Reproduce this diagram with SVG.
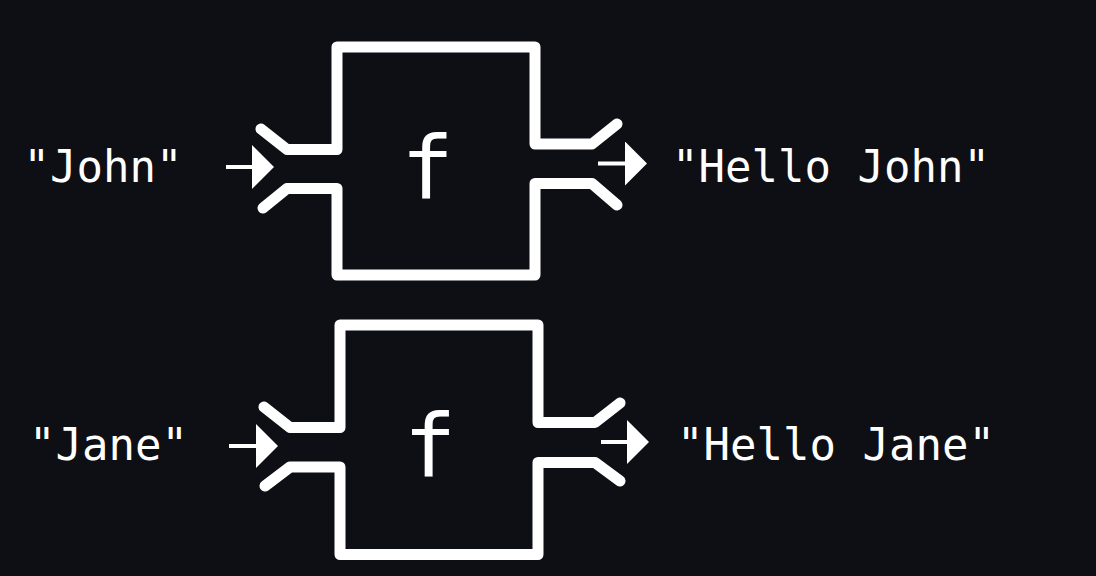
<svg xmlns="http://www.w3.org/2000/svg" width="1096" height="576" viewBox="0 0 1096 576">
  <style>
    .box { fill: none; stroke: #ffffff; stroke-width: 11; stroke-linejoin: round; stroke-linecap: round; }
    .lbl { fill: #ffffff; font-family: "DejaVu Sans Mono", "Liberation Mono", monospace; font-size: 44px; text-anchor: middle; }
    .fn { fill: #ffffff; font-family: "DejaVu Sans Mono", "Liberation Mono", monospace; font-size: 87px; text-anchor: middle; }
    .arr { stroke: #ffffff; stroke-width: 4; fill: none; marker-end: url(#head); }
  </style>
  <defs>
    <marker id="head" viewBox="0 0 22 44" refX="1" refY="22" markerWidth="22" markerHeight="44" markerUnits="userSpaceOnUse" orient="auto">
      <path d="M0,0 L22,22 L0,44 Z" fill="#ffffff"/>
    </marker>
  </defs>
  <rect width="1096" height="576" fill="#0d0f14"/>

  <g id="f1">
    <path class="box" d="M261,129 L287,149.5 L337,149.5 L337,47 L535,47 L535,144 L592,144 L617,124"/>
    <path class="box" d="M263,208 L287,188.5 L337,188.5 L337,275 L535,275 L535,183.5 L592,183.5 L617,205"/>
    <text class="fn" x="427.5" y="197.5">f</text>
  </g>
  <g id="f2">
    <path class="box" d="M264,407 L290,427.5 L340,427.5 L340,325 L538,325 L538,422.5 L595,422.5 L620,403"/>
    <path class="box" d="M265,486 L290,467 L340,467 L340,554.5 L538,554.5 L538,462.5 L595,462.5 L620,481"/>
    <text class="fn" x="430" y="475.5">f</text>
  </g>
  <g id="in1"><text class="lbl" x="103" y="182">"John"</text></g>
  <g id="out1"><text class="lbl" x="831" y="182">"Hello John"</text></g>
  <g id="in2"><text class="lbl" x="108.5" y="459.5">"Jane"</text></g>
  <g id="out2"><text class="lbl" x="836" y="459.5">"Hello Jane"</text></g>

  <g id="connectors">
    <line class="arr" x1="226" y1="167" x2="253" y2="167"/>
    <line class="arr" x1="598" y1="163.5" x2="626" y2="163.5"/>
    <line class="arr" x1="229" y1="446" x2="257" y2="446"/>
    <line class="arr" x1="601" y1="442" x2="628" y2="442"/>
  </g>
</svg>
